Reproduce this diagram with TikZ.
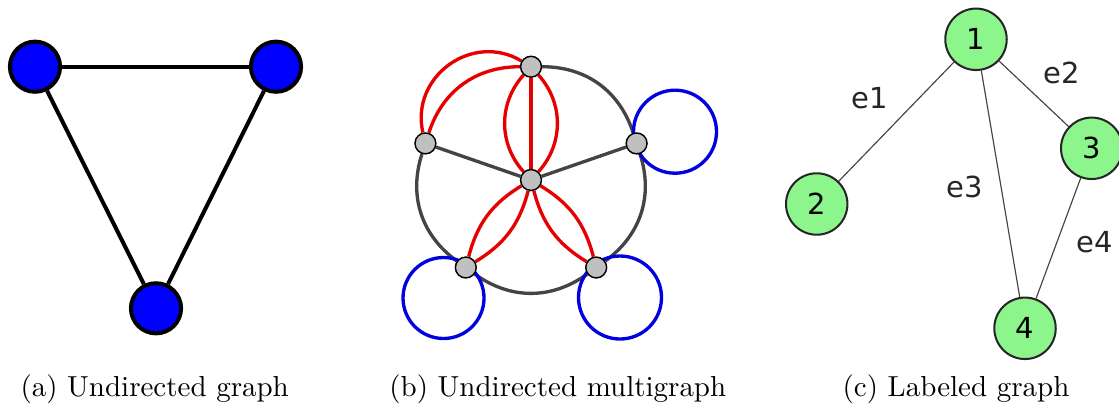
\documentclass[tikz,border=0pt]{standalone}
\usepackage{fontspec}
\newfontfamily\labelfont{DejaVu Sans}
\usetikzlibrary{positioning,backgrounds}
\definecolor{nodegray}{RGB}{192,192,192}
\definecolor{edgegray}{RGB}{68,68,68}
\definecolor{multired}{RGB}{230,0,0}
\definecolor{loopblue}{RGB}{0,0,225}
\definecolor{lightgreen}{RGB}{140,245,140}

\begin{document}
\begin{tikzpicture}[x=0.345pt,y=0.345pt,
    unode/.style={draw, circle, line width=1.38pt, fill=blue, minimum size=17.3pt, inner sep=0pt},
    uedge/.style={line width=1.38pt},
    mnode/.style={draw, circle, line width=0.5pt, fill=nodegray, minimum size=7.2pt, inner sep=0pt},
    medge/.style={line width=1.15pt, edgegray},
    redge/.style={line width=1.15pt, multired},
    bloop/.style={line width=1.15pt, loopblue},
    lnode/.style={draw=black!85, circle, line width=0.7pt, fill=lightgreen, minimum size=21.2pt, inner sep=0pt, font=\labelfont\fontsize{10}{12}\selectfont},
    ledge/.style={line width=0.4pt, edgegray},
    elabel/.style={font=\labelfont\fontsize{10}{12}\selectfont, text=black!85},
    caption/.style={anchor=base, font=\fontsize{10}{12}\selectfont}]
    \useasboundingbox (0,0) rectangle (1119,406);
    % (a) undirected graph
    \node[unode] (a1) at (35,339.3) {};
    \node[unode] (a2) at (276,339.3) {};
    \node[unode] (a3) at (156,97.7) {};
    \begin{scope}[on background layer]
        \draw[uedge] (a1) -- (a2);
        \draw[uedge] (a1) -- (a3);
        \draw[uedge] (a2) -- (a3);
    \end{scope}
    \node[caption] (capa) at (154.7,10) {(a) Undirected graph};
    % (b) undirected multigraph
    \node[mnode] (top) at (531,339.3) {};
    \node[mnode] (left) at (425.4,262.6) {};
    \node[mnode] (right) at (636.6,262.6) {};
    \node[mnode] (botl) at (465.8,138.5) {};
    \node[mnode] (botr) at (596.2,138.5) {};
    \node[mnode] (mid) at (531,226) {};
    \begin{scope}[on background layer]
        \draw[medge] (top) to[bend left=36] (right);
        \draw[medge] (right) to[bend left=36] (botr);
        \draw[medge] (botr) to[bend left=36] (botl);
        \draw[medge] (botl) to[bend left=36] (left);
        \draw[medge] (mid) -- (left);
        \draw[medge] (mid) -- (right);
        \draw[redge] (left) to[bend left=36] (top);
        \draw[redge] (left) to[bend left=67, looseness=1.2] (top);
        \draw[redge] (top) -- (mid);
        \draw[redge] (top) to[bend left=42] (mid);
        \draw[redge] (top) to[bend right=42] (mid);
        \draw[redge] (mid) to[bend left=22] (botl);
        \draw[redge] (mid) to[bend right=22] (botl);
        \draw[redge] (mid) to[bend left=22] (botr);
        \draw[redge] (mid) to[bend right=22] (botr);
        \draw[bloop] (right) ++(38.4,11.7) circle[radius=41.5];
        \draw[bloop] (botl) ++(-22.3,-30.5) circle[radius=40.5];
        \draw[bloop] (botr) ++(23.8,-30) circle[radius=41.5];
    \end{scope}
    \node[caption] (capb) at (557.8,10) {(b) Undirected multigraph};
    % (c) labeled graph
    \node[lnode] (n1) at (976,366.7) {1};
    \node[lnode] (n2) at (816.7,202) {2};
    \node[lnode] (n3) at (1091.7,257.7) {3};
    \node[lnode] (n4) at (1025,77.7) {4};
    \begin{scope}[on background layer]
        \draw[ledge] (n1) -- (n2);
        \draw[ledge] (n1) -- (n3);
        \draw[ledge] (n1) -- (n4);
        \draw[ledge] (n3) -- (n4);
    \end{scope}
    \node[elabel] (e1) at (870,307.7) {e1};
    \node[elabel] (e2) at (1061.7,332.7) {e2};
    \node[elabel] (e3) at (965,219.3) {e3};
    \node[elabel] (e4) at (1095,164.3) {e4};
    \node[caption] (capc) at (956,10) {(c) Labeled graph};
\end{tikzpicture}
\end{document}
